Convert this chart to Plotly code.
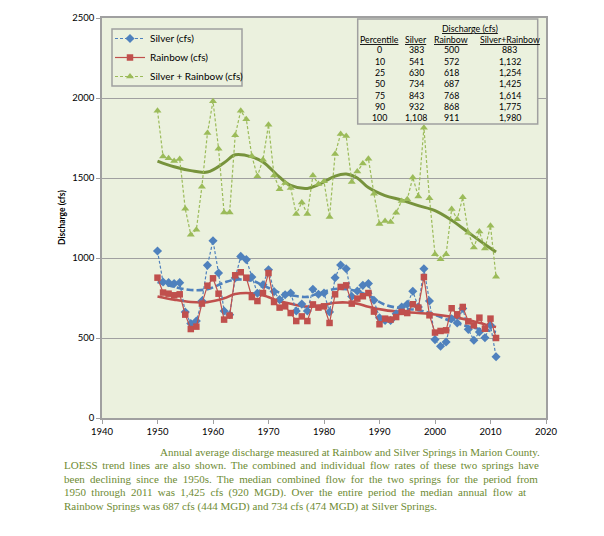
import plotly.graph_objects as go

# ---------------- data ----------------
years = list(range(1950, 2012))

silver = [1044, 850, 846, 840, 846, 662, 590, 606, 731, 954,
          1108, 906, 669, 645, 875, 1010, 990, 881, 780, 833,
          927, 790, 740, 770, 781, 669, 712, 669, 805, 773,
          781, 663, 877, 956, 933, 760, 794, 829, 840, 736,
          627, 610, 610, 652, 694, 711, 792, 694, 933, 731,
          490, 448, 475, 620, 594, 685, 554, 486, 538, 502,
          580, 383]

rainbow = [877, 784, 777, 767, 773, 646, 556, 571, 715, 827,
           873, 777, 615, 640, 892, 911, 877, 756, 731, 781,
           906, 725, 690, 698, 656, 606, 635, 606, 710, 690,
           698, 594, 773, 819, 829, 715, 746, 761, 781, 665,
           586, 621, 615, 631, 663, 656, 711, 690, 881, 642,
           534, 544, 548, 686, 648, 694, 604, 579, 627, 558,
           621, 500]

combined = [1921, 1634, 1623, 1607, 1619, 1308, 1146, 1177, 1446, 1781,
            1980, 1683, 1284, 1285, 1767, 1921, 1867, 1637, 1511, 1614,
            1833, 1515, 1430, 1468, 1437, 1275, 1347, 1275, 1515, 1463,
            1479, 1257, 1650, 1775, 1762, 1475, 1540, 1590, 1621, 1401,
            1213, 1231, 1225, 1283, 1357, 1367, 1503, 1384, 1814, 1373,
            1024, 992, 1023, 1306, 1242, 1379, 1158, 1065, 1165, 1060,
            1201, 883]

trend_years = [1950, 1953, 1956, 1959, 1962, 1964, 1967, 1969, 1972, 1974,
               1977, 1979, 1982, 1984, 1986, 1988, 1991, 1994, 1997, 2000,
               2003, 2006, 2009, 2011]
silver_trend = [850, 820, 800, 805, 846, 865, 858, 829, 783, 767,
                757, 779, 806, 805, 792, 765, 708, 685, 674, 645,
                603, 572, 550, 538]
rainbow_trend = [760, 740, 725, 724, 748, 775, 780, 767, 730, 714,
                 696, 700, 720, 722, 715, 695, 674, 663, 656, 647,
                 632, 612, 585, 569]
combined_trend = [1606, 1570, 1546, 1537, 1595, 1645, 1632, 1600, 1505, 1454,
                  1435, 1458, 1512, 1525, 1500, 1440, 1390, 1362, 1327, 1296,
                  1236, 1160, 1085, 1038]

pct_header = ["Percentile", "Silver", "Rainbow", "Silver+Rainbow"]
pct_labels = ["0", "10", "25", "50", "75", "90", "100"]
pct_silver = ["383", "541", "630", "734", "843", "932", "1,108"]
pct_rainbow = ["500", "572", "618", "687", "768", "868", "911"]
pct_combined = ["883", "1,132", "1,254", "1,425", "1,614", "1,775", "1,980"]

caption_lines = [
    "Annual average discharge measured at Rainbow and Silver Springs in Marion County.",
    "LOESS trend lines are also shown. The combined and individual flow rates of these two springs have",
    "been declining since the 1950s. The median combined flow for the two springs for the period from",
    "1950 through 2011 was 1,425 cfs (920 MGD). Over the entire period the median annual flow at",
    "Rainbow Springs was 687 cfs (444 MGD) and 734 cfs (474 MGD) at Silver Springs.",
]

# ---------------- styling ----------------
BLUE = "#4F81BD"
RED = "#C0504D"
GREEN = "#9BBB59"
OLIVE = "#77933C"
CAPTION = "#6E8B33"
BG = "#EBF1DE"
GRID = "#A0A0A0"
SANS = "Lato, 'Liberation Sans', sans-serif"
SERIF = "'Liberation Serif', 'DejaVu Serif', serif"

L, R, T, B = 102, 58, 18, 118
W, H = 604, 536
PW, PH = W - L - R, H - T - B


def px(x):
    return (x - L) / PW


def py(y):
    return (H - B - y) / PH


fig = go.Figure()

# LOESS trends
fig.add_trace(go.Scatter(x=trend_years, y=silver_trend, mode="lines", line_shape="spline",
                         line=dict(color=BLUE, width=2.6, dash="7px,3px"), showlegend=False,
                         hoverinfo="skip"))
fig.add_trace(go.Scatter(x=trend_years, y=rainbow_trend, mode="lines", line_shape="spline",
                         line=dict(color=RED, width=2.6), showlegend=False, hoverinfo="skip"))
fig.add_trace(go.Scatter(x=trend_years, y=combined_trend, mode="lines", line_shape="spline",
                         line=dict(color=OLIVE, width=3), showlegend=False, hoverinfo="skip"))

# data series
fig.add_trace(go.Scatter(x=years, y=silver, mode="lines+markers", name="Silver (cfs)",
                         line=dict(color=BLUE, width=1.2, dash="3px,2px"),
                         marker=dict(symbol="diamond", size=7, color=BLUE)))
fig.add_trace(go.Scatter(x=years, y=rainbow, mode="lines+markers", name="Rainbow (cfs)",
                         line=dict(color=RED, width=1.2),
                         marker=dict(symbol="square", size=6.5, color=RED)))
fig.add_trace(go.Scatter(x=years, y=combined, mode="lines+markers", name="Silver + Rainbow (cfs)",
                         line=dict(color=GREEN, width=1.2, dash="3px,2px"),
                         marker=dict(symbol="triangle-up", size=7, color=GREEN)))

annotations = []

# y-axis title
annotations.append(dict(x=px(62), y=0.5, xref="paper", yref="paper", text="<b>Discharge (cfs)</b>",
                        textangle=-90, showarrow=False, font=dict(family=SANS, size=8.5, color="#000"),
                        xanchor="center", yanchor="middle"))

# percentile table
TF = dict(family=SANS, size=8.8, color="#000")
col_x = [379.5, 416, 451, 509.5]
annotations.append(dict(x=px(470), y=py(28.5), xref="paper", yref="paper",
                        text="<u>Discharge (cfs)</u>", showarrow=False, font=TF,
                        xanchor="center", yanchor="middle"))
for cx, h in zip(col_x, pct_header):
    annotations.append(dict(x=px(cx), y=py(39.5), xref="paper", yref="paper",
                            text="<u>" + h + "</u>", showarrow=False, font=TF,
                            xanchor="center", yanchor="middle"))
row_y = [49.5, 61, 72.3, 83.7, 95, 106.3, 117.5]
for ry, a, b, c, d in zip(row_y, pct_labels, pct_silver, pct_rainbow, pct_combined):
    for cx, t in zip(col_x, (a, b, c, d)):
        annotations.append(dict(x=px(cx), y=py(ry), xref="paper", yref="paper",
                                text=t, showarrow=False, font=TF,
                                xanchor="center", yanchor="middle"))

# caption (first line indented, middle lines justified via word spacing)
cap_y = [452, 465.5, 479, 492.5, 506]
cap_x = [158, 62, 62, 62, 62]
cap_ws = [0, 1.8, 2.5, 2.6, 0]
for line, cy, cx, ws in zip(caption_lines, cap_y, cap_x, cap_ws):
    txt = line if ws == 0 else '<span style="word-spacing:%.1fpx">%s</span>' % (ws, line)
    annotations.append(dict(x=px(cx), y=py(cy), xref="paper", yref="paper", text=txt,
                            showarrow=False, xanchor="left", yanchor="middle",
                            font=dict(family=SERIF, size=11, color=CAPTION)))

shapes = [
    # percentile table box
    dict(type="rect", xref="paper", yref="paper",
         x0=px(357.7), x1=px(537.7), y0=py(124), y1=py(19),
         fillcolor=BG, line=dict(color=GRID, width=1.5), layer="above"),
    # legend box
    dict(type="rect", xref="paper", yref="paper",
         x0=px(112), x1=px(242), y0=py(86), y1=py(29),
         fillcolor=BG, line=dict(color=GRID, width=1.5), layer="above"),
]

fig.update_layout(
    width=W, height=H,
    margin=dict(l=L, r=R, t=T, b=B, pad=0),
    paper_bgcolor="white", plot_bgcolor=BG,
    showlegend=True,
    legend=dict(x=px(110), y=py(24), xanchor="left", yanchor="top",
                bgcolor="rgba(0,0,0,0)", borderwidth=0,
                font=dict(family=SANS, size=10, color="#000"),
                tracegroupgap=0, itemwidth=30),
    xaxis=dict(range=[1940, 2020], dtick=10, tick0=1940, showgrid=False, zeroline=False,
               showline=True, linecolor=GRID, linewidth=1.5, mirror=True,
               ticks="outside", ticklen=4, tickcolor=GRID,
               tickfont=dict(family=SANS, size=9.5, color="#000")),
    yaxis=dict(range=[0, 2500], dtick=500, showgrid=True, gridcolor=GRID, gridwidth=1,
               zeroline=False, showline=True, linecolor=GRID, linewidth=1.5, mirror=True,
               ticks="outside", ticklen=4, tickcolor=GRID,
               tickfont=dict(family=SANS, size=9.5, color="#000")),
    annotations=annotations,
    shapes=shapes,
)

fig.write_html("out.html", config={"displayModeBar": False},
               post_script="document.body.style.margin='0px';document.body.style.overflow='hidden';")
